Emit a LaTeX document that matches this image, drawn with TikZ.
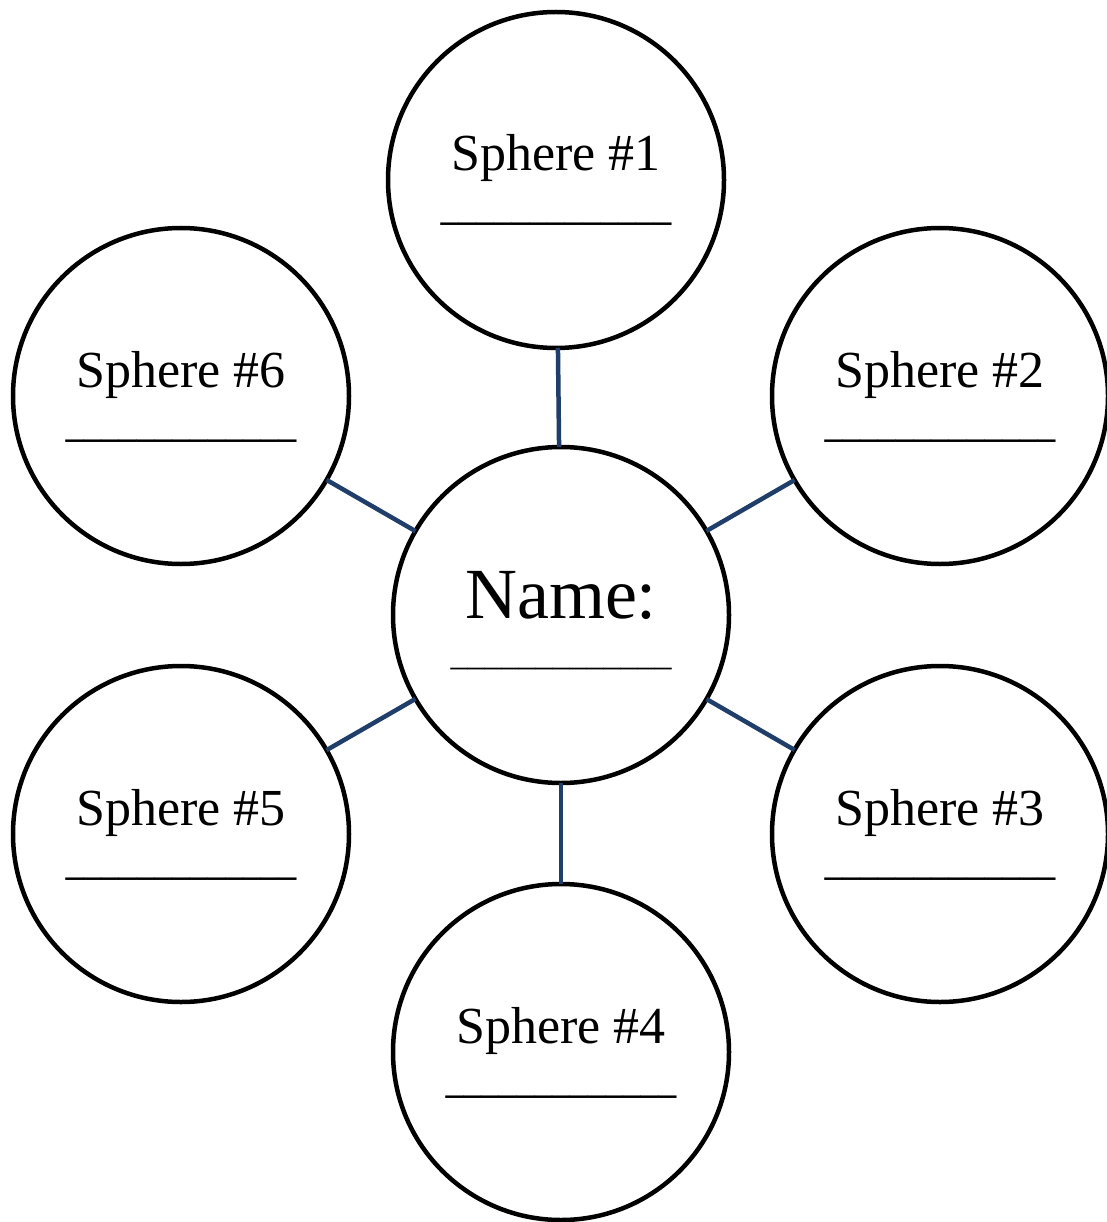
\documentclass[tikz,border=0pt]{standalone}
\usepackage{fontspec}
\setmainfont{Liberation Serif}
\definecolor{linkblue}{RGB}{31,62,105}
\begin{document}
\begin{tikzpicture}[x=1pt,y=-1pt,
  bubble/.style={circle,draw=black,line width=4.5pt,minimum size=336pt,inner sep=0pt,outer sep=0pt},
  link/.style={draw=linkblue,line width=4.5pt},
  lbl/.style={anchor=base,inner sep=0pt,font=\fontsize{52}{60}\selectfont},
  bigl/.style={anchor=base,inner sep=0pt,font=\fontsize{72}{80}\selectfont},
  blank/.style={anchor=base,inner sep=0pt,font=\fontsize{35.5}{40}\selectfont\bfseries},
  smallblank/.style={anchor=base,inner sep=0pt,font=\fontsize{34}{40}\selectfont}]
\useasboundingbox (0,0) rectangle (1107,1222);
\node[bubble] (c) at (561,615) {};
\node[bubble] (s1) at (556,180) {};
\node[bubble] (s2) at (940,396) {};
\node[bubble] (s3) at (940,834) {};
\node[bubble] (s4) at (561,1052) {};
\node[bubble] (s5) at (181,834) {};
\node[bubble] (s6) at (181,396) {};
\foreach \s in {s1,s2,s3,s4,s5,s6} \draw[link] (c) -- (\s);
\node[bigl] (cn) at (561,618) {Name:};
\node[smallblank] (cb) at (561,665) {\_\_\_\_\_\_\_\_\_\_\_\_\_};
\node[lbl] (t1) at (556,171) {Sphere \#1};
\node[blank] (b1) at (556,221) {\_\_\_\_\_\_\_\_\_\_\_\_\_};
\node[lbl] (t2) at (940,387) {Sphere \#2};
\node[blank] (b2) at (940,437) {\_\_\_\_\_\_\_\_\_\_\_\_\_};
\node[lbl] (t3) at (940,825) {Sphere \#3};
\node[blank] (b3) at (940,875) {\_\_\_\_\_\_\_\_\_\_\_\_\_};
\node[lbl] (t4) at (561,1043) {Sphere \#4};
\node[blank] (b4) at (561,1093) {\_\_\_\_\_\_\_\_\_\_\_\_\_};
\node[lbl] (t5) at (181,825) {Sphere \#5};
\node[blank] (b5) at (181,875) {\_\_\_\_\_\_\_\_\_\_\_\_\_};
\node[lbl] (t6) at (181,387) {Sphere \#6};
\node[blank] (b6) at (181,437) {\_\_\_\_\_\_\_\_\_\_\_\_\_};
\end{tikzpicture}
\end{document}
